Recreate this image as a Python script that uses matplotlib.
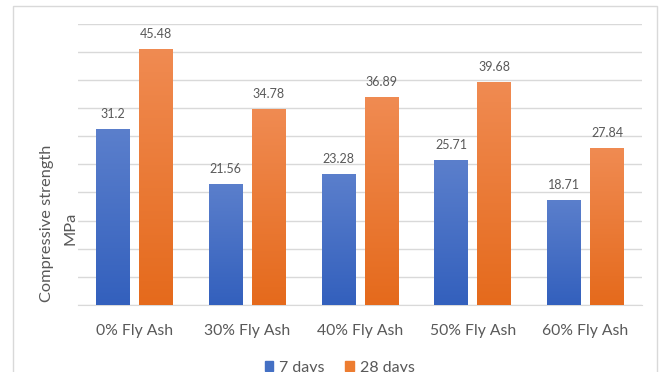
import numpy as np
import matplotlib.pyplot as plt
from matplotlib.patches import Rectangle, Patch
from matplotlib.colors import LinearSegmentedColormap

# Resistencia a compresión (MPa) según el porcentaje de ceniza volante
mezclas = ['0% Fly Ash', '30% Fly Ash', '40% Fly Ash', '50% Fly Ash', '60% Fly Ash']
dias_7 = [31.2, 21.56, 23.28, 25.71, 18.71]
dias_28 = [45.48, 34.78, 36.89, 39.68, 27.84]
series = ['7 days', '28 days']

plt.rcParams['font.family'] = ['Lato', 'DejaVu Sans']
gris = '#595959'

fig = plt.figure(figsize=(6.62, 3.72), dpi=100)
ax = fig.add_axes([0.1178, 0.1801, 0.852, 0.7567])

x = np.arange(len(mezclas))
ancho = 0.30
desp = 0.19

# degradados: arriba más claro, abajo más oscuro
grad_azul = LinearSegmentedColormap.from_list('azul', ['#3360bd', '#5b7fcc'])
grad_naranja = LinearSegmentedColormap.from_list('naranja', ['#e56a1c', '#f08b52'])
rampa = np.linspace(0, 1, 256).reshape(-1, 1)

for valores, signo, cmap, base in [(dias_7, -1, grad_azul, '#4470c4'),
                                   (dias_28, 1, grad_naranja, '#ed7d31')]:
    barras = ax.bar(x + signo * desp, valores, ancho, color=base, zorder=2)
    for b, v in zip(barras, valores):
        x0 = b.get_x()
        im = ax.imshow(rampa, cmap=cmap, origin='lower', aspect='auto',
                       extent=(x0, x0 + ancho, 0, v), zorder=3)
        im.set_clip_path(b)
        ax.annotate(f'{v:g}', (b.get_x() + ancho / 2, v), xytext=(0, 6.5),
                    textcoords='offset points', ha='center', va='bottom',
                    fontsize=9, color=gris)

ax.set_xlim(-0.5, len(mezclas) - 0.5)
ax.set_ylim(0, 50)
ax.set_yticks(np.arange(0, 51, 5))
ax.set_yticklabels([])
ax.yaxis.grid(True, color='#d9d9d9', linewidth=1)
ax.set_axisbelow(True)
ax.set_xticks(x)
ax.set_xticklabels(mezclas, fontsize=11.3, color=gris)
ax.tick_params(length=0, pad=14)
for lado in ['top', 'right', 'left']:
    ax.spines[lado].set_visible(False)
ax.spines['bottom'].set_color('#d9d9d9')

fig.text(0.071, 0.40, 'Compressive strength', rotation=90, fontsize=11.8,
         color=gris, ha='center', va='center')
fig.text(0.106, 0.385, 'MPa', rotation=90, fontsize=11.8,
         color=gris, ha='center', va='center')

handles = [Patch(color='#4470c4'), Patch(color='#ed7d31')]
fig.legend(handles, series, loc='center', bbox_to_anchor=(0.513, 0.012),
           ncol=2, frameon=False, fontsize=11.5, handlelength=0.55,
           handleheight=0.55, handletextpad=0.35, columnspacing=1.3,
           labelcolor=gris)

# marco del gráfico
fig.patches.append(Rectangle((13 / 662, -0.2), 644 / 662, 1.2 - 6 / 372,
                             transform=fig.transFigure, fill=False,
                             edgecolor='#d9d9d9', linewidth=1))

fig.savefig('out.png', dpi=100)
